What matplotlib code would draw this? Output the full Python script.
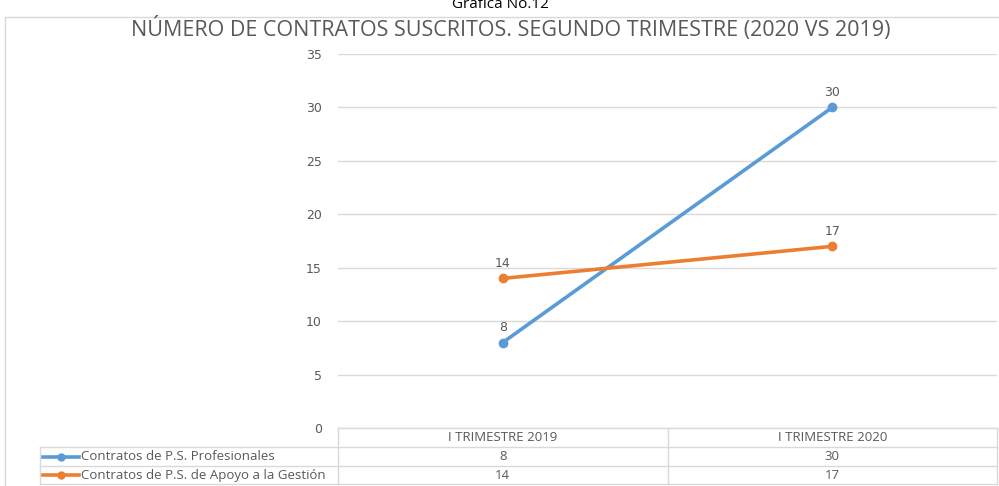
import matplotlib
matplotlib.use("Agg")
import matplotlib.pyplot as plt

categories = ["I TRIMESTRE 2019", "I TRIMESTRE 2020"]
series_names = ["Contratos de P.S. Profesionales", "Contratos de P.S. de Apoyo a la Gestión"]
profesionales = [8, 30]
apoyo = [14, 17]
colors = ["#5B9BD5", "#ED7D31"]
yticks = [0, 5, 10, 15, 20, 25, 30, 35]

W, H = 999, 486
fig = plt.figure(figsize=(W / 100, H / 100), dpi=100)
plt.rcParams["font.family"] = ["Open Sans", "DejaVu Sans"]
TXT = "#595959"
GRID = "#D9D9D9"
NUMFONT = ["DejaVu Sans"]

# background overlay in pixel coords for frame + table
bg = fig.add_axes([0, 0, 1, 1])
bg.set_xlim(0, W); bg.set_ylim(H, 0); bg.axis("off")
bg.plot([5, W], [17, 17], color=GRID, lw=1)
bg.plot([5, 5], [17, H], color=GRID, lw=1)
bg.text(500, -3, "Gráfica No.12", ha="center", va="top", fontsize=11, color="black")
bg.text(511, 29, "NÚMERO DE CONTRATOS SUSCRITOS. SEGUNDO TRIMESTRE (2020 VS 2019)",
        ha="center", va="center", fontsize=15.5, color=TXT)

# plot area
x0, x1, ytop, ybot = 338, 997, 54, 428
ax = fig.add_axes([x0 / W, 1 - ybot / H, (x1 - x0) / W, (ybot - ytop) / H])
ax.set_ylim(0, 35)
ax.set_xlim(-0.5, len(categories) - 0.5)
ax.set_yticks(yticks)
ax.yaxis.grid(True, color=GRID, lw=1)
ax.set_axisbelow(True)
ax.set_xticks([])
for sp in ax.spines.values():
    sp.set_visible(False)
ax.tick_params(axis="y", length=0, pad=11.5, labelsize=9, labelcolor=TXT)
for lbl in ax.get_yticklabels():
    lbl.set_family(NUMFONT)
ax.patch.set_alpha(0)

xs = list(range(len(categories)))
for vals, c in zip([profesionales, apoyo], colors):
    ax.plot(xs, vals, color=c, lw=2.6, marker="o", ms=6, zorder=3)
    for x, v in zip(xs, vals):
        ax.annotate(str(v), (x, v), xytext=(0, 6), textcoords="offset points",
                    ha="center", va="bottom", fontsize=9, color=TXT, family=NUMFONT)

# data table
rows = [428, 447, 466, 484]
cols = [x0, (x0 + x1) / 2, x1]
lx = 40
bg.plot([x0, x1], [rows[0], rows[0]], color=GRID, lw=1)
for r in rows[1:]:
    bg.plot([lx, x1], [r, r], color=GRID, lw=1)
for c in cols:
    bg.plot([c, c], [rows[0], rows[-1]], color=GRID, lw=1)
bg.plot([lx, lx], [rows[1], rows[-1]], color=GRID, lw=1)

for j, cat in enumerate(categories):
    cx = (cols[j] + cols[j + 1]) / 2
    bg.text(cx, (rows[0] + rows[1]) / 2, cat, ha="center", va="center", fontsize=9.5, color=TXT)
for i, (name, vals, c) in enumerate(zip(series_names, [profesionales, apoyo], colors)):
    cy = (rows[i + 1] + rows[i + 2]) / 2
    bg.plot([43, 79], [cy, cy], color=c, lw=2.6)
    bg.plot([61], [cy], color=c, marker="o", ms=5)
    bg.text(81, cy, name, ha="left", va="center", fontsize=9.5, color=TXT)
    for j, v in enumerate(vals):
        cx = (cols[j] + cols[j + 1]) / 2
        bg.text(cx, cy, str(v), ha="center", va="center", fontsize=9.5, color=TXT)

fig.savefig("out.png", dpi=100)
